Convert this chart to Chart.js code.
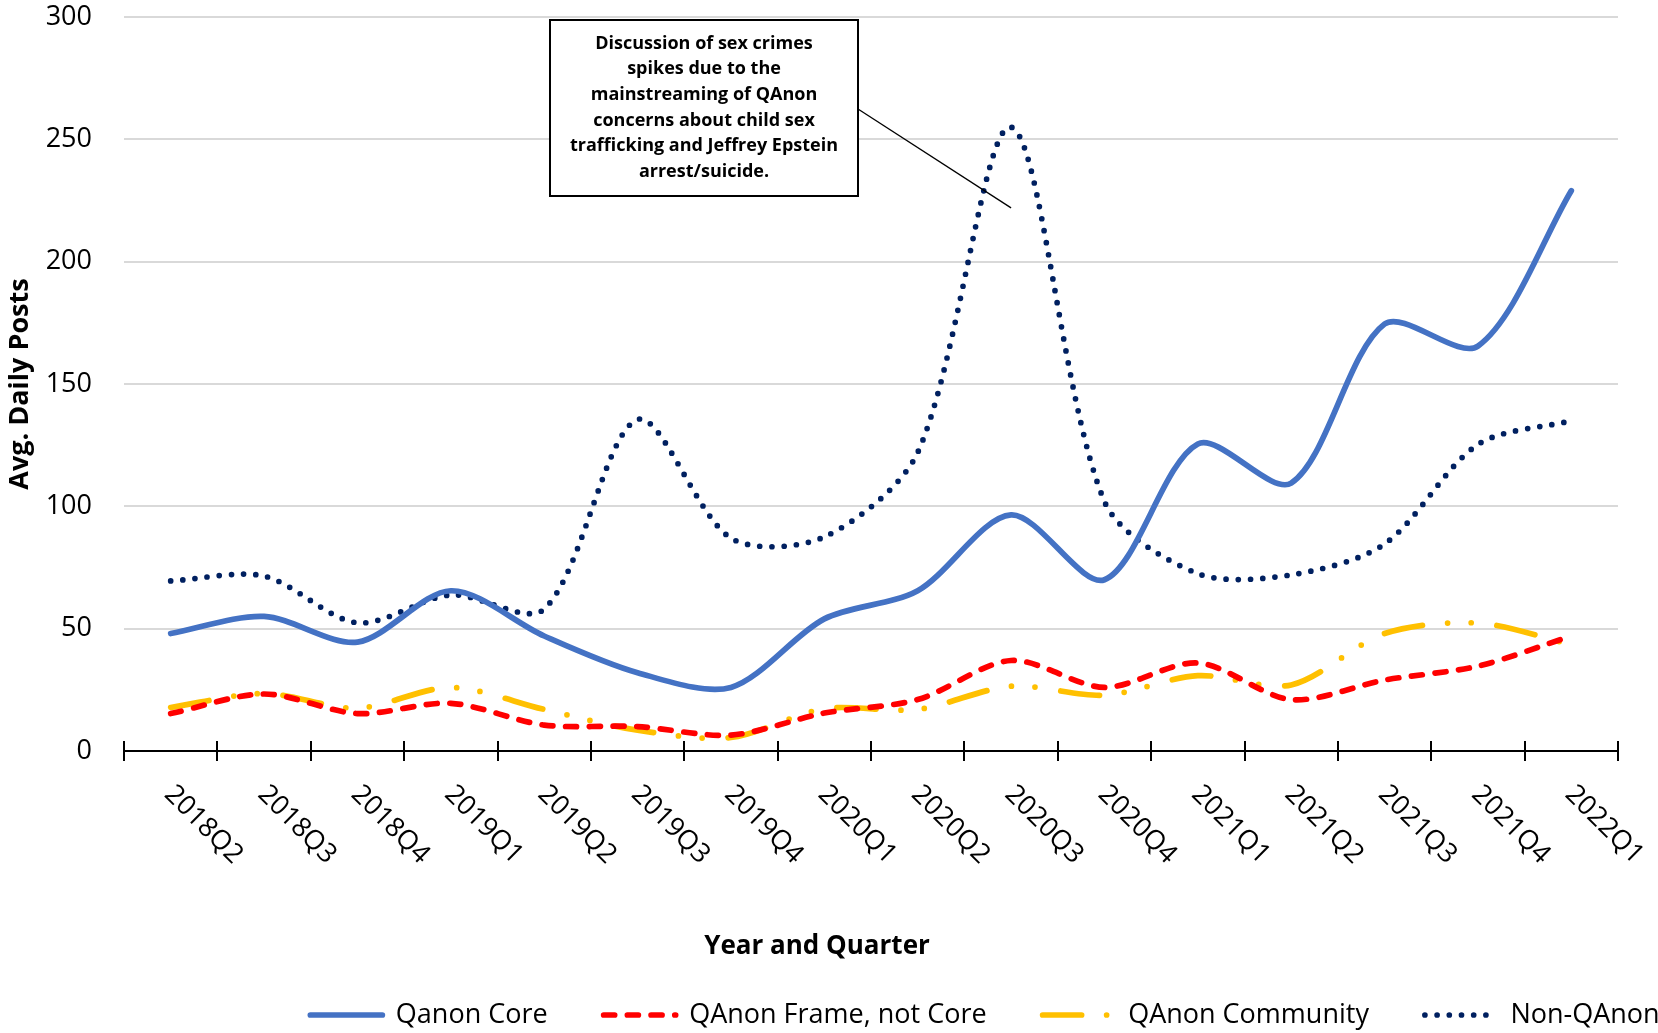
<!DOCTYPE html>
<html>
<head>
<meta charset="utf-8">
<title>Avg. Daily Posts by Year and Quarter</title>
<script src="https://cdn.jsdelivr.net/npm/chart.js@4.4.0/dist/chart.umd.min.js"></script>
<style>
  html, body { margin: 0; padding: 0; background: #fff; }
  #wrap { width: 1658px; height: 1033px; }
</style>
</head>
<body>
<div id="wrap"><canvas id="chart" width="1658" height="1033"></canvas></div>
<script>
const quarters = ['2018Q2', '2018Q3', '2018Q4', '2019Q1', '2019Q2', '2019Q3', '2019Q4', '2020Q1',
                  '2020Q2', '2020Q3', '2020Q4', '2021Q1', '2021Q2', '2021Q3', '2021Q4', '2022Q1'];

const qanonCore      = [48, 55, 44.5, 65.5, 47, 32, 26, 54, 65.5, 96.5, 70, 125.5, 109.5, 174.5, 165.5, 229];
const qanonFrame     = [15.3, 23.3, 15.3, 19.5, 10.6, 10, 6.5, 15.5, 21, 37, 26, 36, 21, 29, 34.7, 47];
const qanonCommunity = [17.8, 23.5, 17.5, 26, 17, 8.5, 5.5, 17.3, 17, 26.5, 22.8, 30.8, 27, 48, 52.3, 43.5];
const nonQanon       = [69.5, 71.5, 52.4, 63.8, 58, 135.5, 87, 87.5, 122, 255, 102, 72.5, 72, 84.6, 125.3, 135];

const yMax = 300;
const yStep = 50;

const xTitle = 'Year and Quarter';
const yTitle = 'Avg. Daily Posts';

const noteLines = [
  'Discussion of sex crimes',
  'spikes due to the',
  'mainstreaming of QAnon',
  'concerns about child sex',
  'trafficking and Jeffrey Epstein',
  'arrest/suicide.'
];
// the callout points at the 2020Q3 spike
const noteIndex = 9;
const noteValue = 222;

const FONT = '"Open Sans", "Noto Sans", sans-serif';
const LINE_W = 5.7;

// tick marks crossing the axis, slanted quarter labels, x title, callout box
const axisDecor = {
  id: 'axisDecor',
  afterDatasetsDraw(chart) {
    const { ctx, scales: { x, y } } = chart;
    const half = (x.getPixelForValue(1) - x.getPixelForValue(0)) / 2;
    const axisY = y.getPixelForValue(0);

    ctx.save();
    ctx.strokeStyle = '#000';
    ctx.lineWidth = 2;
    ctx.beginPath();
    for (let i = 0; i <= quarters.length; i++) {
      const px = i < quarters.length ? x.getPixelForValue(i) - half : x.getPixelForValue(i - 1) + half;
      ctx.moveTo(Math.round(px), axisY - 10);
      ctx.lineTo(Math.round(px), axisY + 10);
    }
    ctx.stroke();

    ctx.fillStyle = '#000';
    ctx.font = '27px ' + FONT;
    ctx.textAlign = 'left';
    ctx.textBaseline = 'middle';
    quarters.forEach((q, i) => {
      ctx.save();
      ctx.translate(x.getPixelForValue(i) - 2, axisY + 39);
      ctx.rotate(Math.PI / 4);
      ctx.fillText(q, 0, 0);
      ctx.restore();
    });

    ctx.font = 'bold 26px ' + FONT;
    ctx.textAlign = 'center';
    ctx.fillText(xTitle, 817, 947);

    // callout
    const box = { left: 550, top: 20, right: 858, bottom: 196 };
    ctx.lineWidth = 1.3;
    ctx.beginPath();
    ctx.moveTo(box.right, 109);
    ctx.lineTo(x.getPixelForValue(noteIndex), y.getPixelForValue(noteValue));
    ctx.stroke();

    ctx.fillStyle = '#fff';
    ctx.fillRect(box.left, box.top, box.right - box.left, box.bottom - box.top);
    ctx.lineWidth = 2;
    ctx.strokeRect(box.left, box.top, box.right - box.left, box.bottom - box.top);

    ctx.fillStyle = '#000';
    ctx.font = 'bold 18px ' + FONT;
    noteLines.forEach((line, i) => {
      ctx.fillText(line, (box.left + box.right) / 2, 43.5 + i * 25.7);
    });
    ctx.restore();
  }
};

// put the legend row where the original has it (row centred on x = 985)
const legendPlace = {
  id: 'legendPlace',
  afterLayout(chart) {
    const lg = chart.legend;
    lg.left = 70;
    lg.right = 1900;
    lg.top = 945.5;
  }
};

new Chart(document.getElementById('chart'), {
  type: 'line',
  data: {
    labels: quarters,
    datasets: [{
      label: 'Qanon Core',
      data: qanonCore,
      borderColor: '#4472C4',
      backgroundColor: '#4472C4',
      borderWidth: LINE_W,
      borderCapStyle: 'round',
      borderJoinStyle: 'round'
    }, {
      label: 'QAnon Frame, not Core',
      data: qanonFrame,
      borderColor: '#FF0000',
      backgroundColor: '#FF0000',
      borderWidth: LINE_W,
      borderDash: [11, 12.7],
      borderCapStyle: 'round',
      borderJoinStyle: 'round'
    }, {
      label: 'QAnon Community',
      data: qanonCommunity,
      borderColor: '#FFC000',
      backgroundColor: '#FFC000',
      borderWidth: LINE_W,
      borderDash: [39, 25, 0, 23.6, 0, 26],
      borderCapStyle: 'round',
      borderJoinStyle: 'round'
    }, {
      label: 'Non-QAnon',
      data: nonQanon,
      borderColor: '#002060',
      backgroundColor: '#002060',
      borderWidth: LINE_W,
      borderDash: [0, 12.2],
      borderCapStyle: 'round',
      borderJoinStyle: 'round'
    }]
  },
  options: {
    responsive: false,
    animation: false,
    devicePixelRatio: 1,
    elements: {
      point: { radius: 0, hoverRadius: 0 },
      line: { tension: 0.3 }
    },
    layout: { padding: { top: 17, right: 40, bottom: 0, left: 0 } },
    plugins: {
      tooltip: { enabled: false },
      legend: {
        position: 'bottom',
        align: 'center',
        maxHeight: 72,
        labels: {
          usePointStyle: true,
          pointStyle: 'line',
          pointStyleWidth: 72,
          padding: 56,
          color: '#000',
          font: { family: FONT, size: 27 },
          generateLabels(chart) {
            return chart.data.datasets.map((ds, i) => ({
              text: ds.label,
              datasetIndex: i,
              hidden: false,
              strokeStyle: ds.borderColor,
              fillStyle: ds.borderColor,
              fontColor: '#000',
              lineWidth: ds.borderWidth,
              lineDash: ds.borderDash || [],
              lineCap: 'round',
              lineJoin: 'round',
              pointStyle: 'line',
              rotation: 0
            }));
          }
        }
      }
    },
    scales: {
      x: {
        offset: true,
        ticks: { display: false },
        grid: { display: true, drawOnChartArea: false, drawTicks: false },
        border: { display: true, color: '#000', width: 2 },
        title: { display: false },
        afterFit(scale) { scale.height = 210; }
      },
      y: {
        min: 0,
        max: yMax,
        ticks: {
          stepSize: yStep,
          padding: 32,
          color: '#000',
          font: { family: FONT, size: 27 }
        },
        grid: { color: '#D9D9D9', lineWidth: 2, drawTicks: false },
        border: { display: false },
        title: {
          display: true,
          text: yTitle,
          color: '#000',
          font: { family: FONT, size: 27, weight: 'bold' },
          padding: { top: 4, bottom: 0 }
        },
        afterFit(scale) {
          scale.width = 124;
          scale.paddingTop = 0;
          scale.paddingBottom = 0;
        }
      }
    }
  },
  plugins: [axisDecor, legendPlace]
});
</script>
</body>
</html>
